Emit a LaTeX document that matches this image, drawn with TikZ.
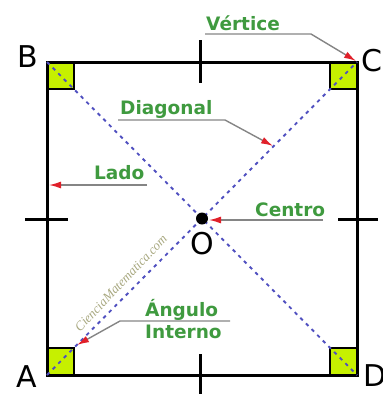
\documentclass[tikz,border=0pt]{standalone}
\usepackage{fontspec}
\setmainfont{DejaVu Sans}
\newfontfamily\wmfont{Liberation Serif}
\usetikzlibrary{arrows.meta}
\definecolor{lblgreen}{HTML}{3F9A3F}
\definecolor{tipred}{HTML}{E0202A}
\definecolor{leadgray}{HTML}{858585}
\definecolor{diagblue}{HTML}{5050C0}
\definecolor{boxfill}{HTML}{C6F000}
\definecolor{wmcol}{HTML}{A8A880}
\tikzset{
  edge/.style={line width=3pt},
  tickmark/.style={line width=3pt},
  cornerbox/.style={fill=boxfill, draw=black, line width=2pt},
  diag/.style={draw=diagblue, line width=1.9pt, dash pattern=on 3.5pt off 4.5pt},
  leader/.style={draw=leadgray, line width=1.4pt, -{Latex[length=12pt,width=7pt,color=tipred]}},
  lbl/.style={text=lblgreen, font=\bfseries\fontsize{18.5}{20}\selectfont, inner sep=0pt},
  vtx/.style={font=\fontsize{30}{32}\selectfont, inner sep=0pt}
}
\begin{document}
\begin{tikzpicture}[x=1pt,y=-1pt]
\useasboundingbox (0,0) rectangle (383,394);
% corners
\coordinate (A) at (47,375);
\coordinate (B) at (47,62);
\coordinate (C) at (357,62);
\coordinate (D) at (357,375);
\coordinate (O) at (202,218.5);
% corner boxes
\draw[cornerbox] (47,62) rectangle (74,89);
\draw[cornerbox] (330,62) rectangle (357,89);
\draw[cornerbox] (47,348) rectangle (74,375);
\draw[cornerbox] (330,348) rectangle (357,375);
% square
\draw[edge] (A) -- (B) -- (C) -- (D) -- cycle;
% diagonals
\draw[diag] (B) -- (D);
\draw[diag] (A) -- (C);
% ticks
\draw[tickmark] (200,40) -- (200,83);
\draw[tickmark] (200,354) -- (200,394);
\draw[tickmark] (25,219) -- (68,219);
\draw[tickmark] (338,219) -- (378,219);
% center dot
\fill[black] (O) circle (6);
% vertex letters
\node[vtx] (lB) at (28,57) {B};
\node[vtx] (lC) at (372,61) {C};
\node[vtx] (lA) at (27,377) {A};
\node[vtx] (lD) at (375,376) {D};
\node[vtx] (lO) at (202,244) {O};
% watermark
\node[text=wmcol, font=\wmfont\itshape\fontsize{13}{14}\selectfont, rotate=46.5, inner sep=0pt] (wm) at (121,283) {CienciaMatematica.com};
% labels
\node[lbl, anchor=base west] (tV) at (206,30) {Vértice};
\node[lbl, anchor=base west] (tDg) at (120,114) {Diagonal};
\node[lbl, anchor=base west] (tL) at (94,179) {Lado};
\node[lbl, anchor=base west] (tCe) at (255,216) {Centro};
\node[lbl, anchor=base west] (tAn) at (145,316) {Ángulo};
\node[lbl, anchor=base west] (tIn) at (145,338) {Interno};
% leader coordinates
\coordinate (v1) at (205,34);
\coordinate (v2) at (311,34);
\coordinate (v3) at (356,61);
\coordinate (d1) at (118,120);
\coordinate (d2) at (225,120);
\coordinate (d3) at (273,146);
\coordinate (l1) at (147,185);
\coordinate (l2) at (49,185);
\coordinate (c1) at (323,220);
\coordinate (c2) at (209,220);
\coordinate (a1) at (230,321);
\coordinate (a2) at (120,321);
\coordinate (a3) at (77,345);
% leaders
\draw[leader] (v1) -- (v2) -- (v3);
\draw[leader] (d1) -- (d2) -- (d3);
\draw[leader] (l1) -- (l2);
\draw[leader] (c1) -- (c2);
\draw[leader] (a1) -- (a2) -- (a3);
\end{tikzpicture}
\end{document}
